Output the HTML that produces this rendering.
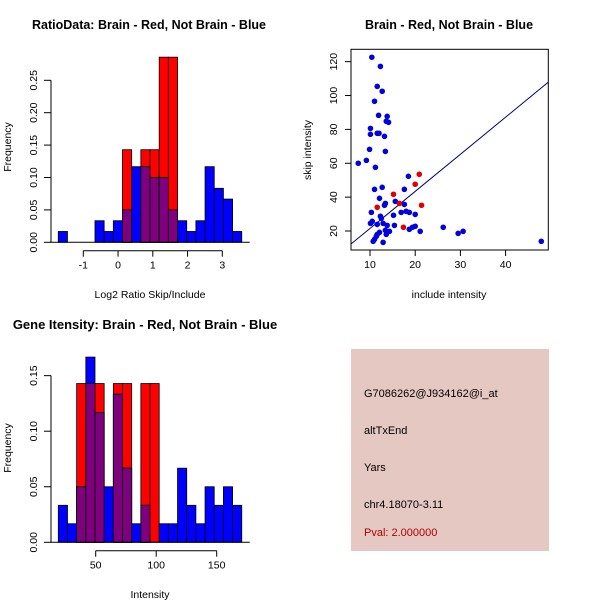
<!DOCTYPE html>
<html><head><meta charset="utf-8"><style>
html,body{margin:0;padding:0;background:#fff;}
svg{display:block;font-family:"Liberation Sans",Arial,sans-serif;}
</style></head><body>
<svg id="s" width="600" height="600" viewBox="0 0 600 600" xmlns="http://www.w3.org/2000/svg">
<rect width="600" height="600" fill="#fff"/>
<text x="149" y="29" font-size="12.5" font-weight="bold" text-anchor="middle">RatioData: Brain - Red, Not Brain - Blue</text>
<text x="449" y="29" font-size="12.5" font-weight="bold" text-anchor="middle">Brain - Red, Not Brain - Blue</text>
<text x="145" y="329" font-size="13" font-weight="bold" text-anchor="middle">Gene Itensity: Brain - Red, Not Brain - Blue</text>
<text x="150" y="298" font-size="10.5" text-anchor="middle">Log2 Ratio Skip/Include</text>
<text x="150" y="598" font-size="10.5" text-anchor="middle">Intensity</text>
<text x="449" y="298" font-size="10.5" text-anchor="middle">include intensity</text>
<text transform="translate(11,147) rotate(-90)" font-size="10.5" text-anchor="middle">Frequency</text>
<text transform="translate(11,448) rotate(-90)" font-size="10.5" text-anchor="middle">Frequency</text>
<text transform="translate(311,150) rotate(-90)" font-size="10.5" text-anchor="middle">skip intensity</text>
<g>
<rect x="351" y="349" width="198" height="202" fill="#E6C8C2"/>
<text x="364" y="397" font-size="11">G7086262@J934162@i_at</text>
<text x="364" y="434" font-size="11">altTxEnd</text>
<text x="364" y="471" font-size="11">Yars</text>
<text x="364" y="508" font-size="11">chr4.18070-3.11</text>
<text x="364" y="536" font-size="11" fill="#B00000">Pval: 2.000000</text>
</g>
<g id="g1"></g><g id="g2"></g><g id="g3"></g>
</svg>
<script>
// Ratio histogram
const ratioStart = -1.72, ratioWidth = 0.264;
const ratioBlue = [0.0167,0,0,0,0.0333,0.0167,0.0333,0.05,0.1167,0.1167,0.1,0.1,0.05,0.0333,0.0167,0.0333,0.1167,0.0833,0.0667,0.0167];
const ratioRed = [0,0,0,0,0,0,0,0.1429,0,0.1429,0.1429,0.2857,0.2857,0,0,0,0,0,0,0];
const ratioXTicks = [-1,0,1,2,3];
const ratioYTicks = ["0.00","0.05","0.10","0.15","0.20","0.25"];
// Intensity histogram
const intStart = 19.1, intWidth = 7.58;
const intBlue = [0.0333,0.0167,0.05,0.1667,0.1167,0.05,0.1333,0.0667,0.0167,0.0333,0,0.0167,0.0167,0.0667,0.0333,0.0167,0.05,0.0333,0.05,0.0333];
const intRed = [0,0,0.1429,0.1429,0.1429,0,0.1429,0.1429,0,0.1429,0.1429,0,0,0,0,0,0,0,0,0];
const intXTicks = [50,100,150];
const intYTicks = ["0.00","0.05","0.10","0.15"];
// Scatter
const blueX = [10.4,12.3,11.6,12.7,11.0,11.9,13.8,13.6,14.1,10.1,10.1,11.6,12.0,13.2,9.9,13.4,9.2,7.4,11.2,18.5,11.0,12.7,17.6,12.1,15.6,13.4,13.2,17.6,10.3,16.9,18.0,18.7,20.0,15.2,12.3,12.5,10.5,10.1,11.6,12.9,13.8,15.4,20.0,19.4,18.7,26.2,13.4,14.3,12.1,13.6,11.6,21.1,29.5,30.6,11.4,11.0,10.7,12.9,47.9];
const blueY = [122.6,117.2,105.4,102.5,96.6,88.3,87.7,84.8,84.2,80.6,77.1,77.7,77.7,75.9,68.2,67.0,61.7,60.0,57.6,52.3,44.6,45.8,44.6,39.3,37.5,36.3,35.2,35.7,31.0,31.0,31.6,31.0,29.8,29.3,28.7,27.5,25.7,24.5,23.9,24.5,23.3,23.3,22.8,22.2,21.0,22.2,20.4,19.8,19.2,18.0,18.0,19.8,18.6,19.8,16.9,15.1,13.9,13.3,13.9];
const redX = [20.9,20.0,15.2,16.5,11.6,21.4,17.4];
const redY = [53.5,47.6,41.7,36.3,34.0,35.2,22.2];
const scatterXTicks = [10,20,30,40];
const scatterYTicks = [20,40,60,80,100,120];
const lineSlope = 2.19, lineIntercept = -0.4;

const NS = "http://www.w3.org/2000/svg";
function mk(parent, tag, attrs) {
  const e = document.createElementNS(NS, tag);
  for (const k in attrs) e.setAttribute(k, attrs[k]);
  parent.appendChild(e);
  return e;
}

function hist(gid, start, width, blue, red, xTicks, yTicks, sx, sy, axisY, nameP) {
  const g = document.getElementById(gid);
  for (let i = 0; i < blue.length; i++) {
    const x0 = sx(start + i * width), x1 = sx(start + (i + 1) * width);
    const b = blue[i], r = red[i], m = Math.min(b, r);
    if (r > 0) {
      const e = mk(g, "rect", {x: x0, y: sy(r), width: x1 - x0, height: sy(0) - sy(r), fill: "#FF0000", stroke: "#000", "stroke-width": 0.8});
      
      
    }
    if (b > 0) {
      const e = mk(g, "rect", {x: x0, y: sy(b), width: x1 - x0, height: sy(0) - sy(b), fill: "#0000FF", stroke: "#000", "stroke-width": 0.8});
      
      
    }
    if (m > 0) {
      const e = mk(g, "rect", {x: x0, y: sy(m), width: x1 - x0, height: sy(0) - sy(m), fill: "#7F007F", stroke: "#000", "stroke-width": 0.8});
      
      
    }
  }
  const y0 = sy(0), yTop = sy(parseFloat(yTicks[yTicks.length - 1]));
  mk(g, "line", {x1: 51, x2: 51, y1: y0, y2: yTop, stroke: "#000"});
  yTicks.forEach(t => {
    const y = sy(parseFloat(t));
    mk(g, "line", {x1: 44, x2: 51, y1: y, y2: y, stroke: "#000"});
    const tx = mk(g, "text", {transform: `translate(37,${y}) rotate(-90)`, "font-size": 10.5, "text-anchor": "middle"});
    tx.textContent = t;
    
    
  });
  mk(g, "line", {x1: sx(start) - 8, x2: sx(start + width * blue.length) + 8, y1: y0, y2: y0, stroke: "#000"});
  mk(g, "line", {x1: sx(xTicks[0]), x2: sx(xTicks[xTicks.length - 1]), y1: axisY, y2: axisY, stroke: "#000"});
  xTicks.forEach(t => {
    const x = sx(t);
    mk(g, "line", {x1: x, x2: x, y1: axisY, y2: axisY + 6, stroke: "#000"});
    const tx = mk(g, "text", {x: x, y: axisY + 18, "font-size": 10.5, "text-anchor": "middle"});
    tx.textContent = t;
    
    
  });
}

hist("g1", ratioStart, ratioWidth, ratioBlue, ratioRed, ratioXTicks, ratioYTicks,
  v => 83.3 + (v + 1) * 34.75, v => 242.3 - v * 648, 250.7, "ratio");
hist("g3", intStart, intWidth, intBlue, intRed, intXTicks, intYTicks,
  v => 95.7 + (v - 50) * 1.21, v => 542.3 - v * 1111, 550.7, "intensity");

(function () {
  const g = document.getElementById("g2");
  const sx = v => 370 + (v - 10) * 4.52;
  const sy = v => 231 - (v - 20) * 1.6935;
  const L = 351, R = 548.3, T = 49.3, B = 250;
  const clip = mk(g, "clipPath", {id: "sc"});
  mk(clip, "rect", {x: L, y: T, width: R - L, height: B - T});
  const xa = (L - 370) / 4.52 + 10, xb = (R - 370) / 4.52 + 10;
  const ln = mk(g, "line", {x1: sx(xa), y1: sy(lineSlope * xa + lineIntercept), x2: sx(xb), y2: sy(lineSlope * xb + lineIntercept), stroke: "#000080", "stroke-width": 1, "clip-path": "url(#sc)"});
  
  
  blueX.forEach((x, i) => {
    const c = mk(g, "circle", {cx: sx(x), cy: sy(blueY[i]), r: 2.8, fill: "#0000E0"});
    
    
  });
  redX.forEach((x, i) => {
    const c = mk(g, "circle", {cx: sx(x), cy: sy(redY[i]), r: 2.8, fill: "#E00000"});
    
    
  });
  mk(g, "rect", {x: L, y: T, width: R - L, height: B - T, fill: "none", stroke: "#000"});
  scatterXTicks.forEach(t => {
    const x = sx(t);
    mk(g, "line", {x1: x, x2: x, y1: B, y2: B + 6, stroke: "#000"});
    const tx = mk(g, "text", {x: x, y: B + 18, "font-size": 10.5, "text-anchor": "middle"});
    tx.textContent = t;
    
    
  });
  scatterYTicks.forEach(t => {
    const y = sy(t);
    mk(g, "line", {x1: L - 6, x2: L, y1: y, y2: y, stroke: "#000"});
    const tx = mk(g, "text", {transform: `translate(337,${y}) rotate(-90)`, "font-size": 10.5, "text-anchor": "middle"});
    tx.textContent = t;
    
    
  });
})();
</script>
</body></html>
